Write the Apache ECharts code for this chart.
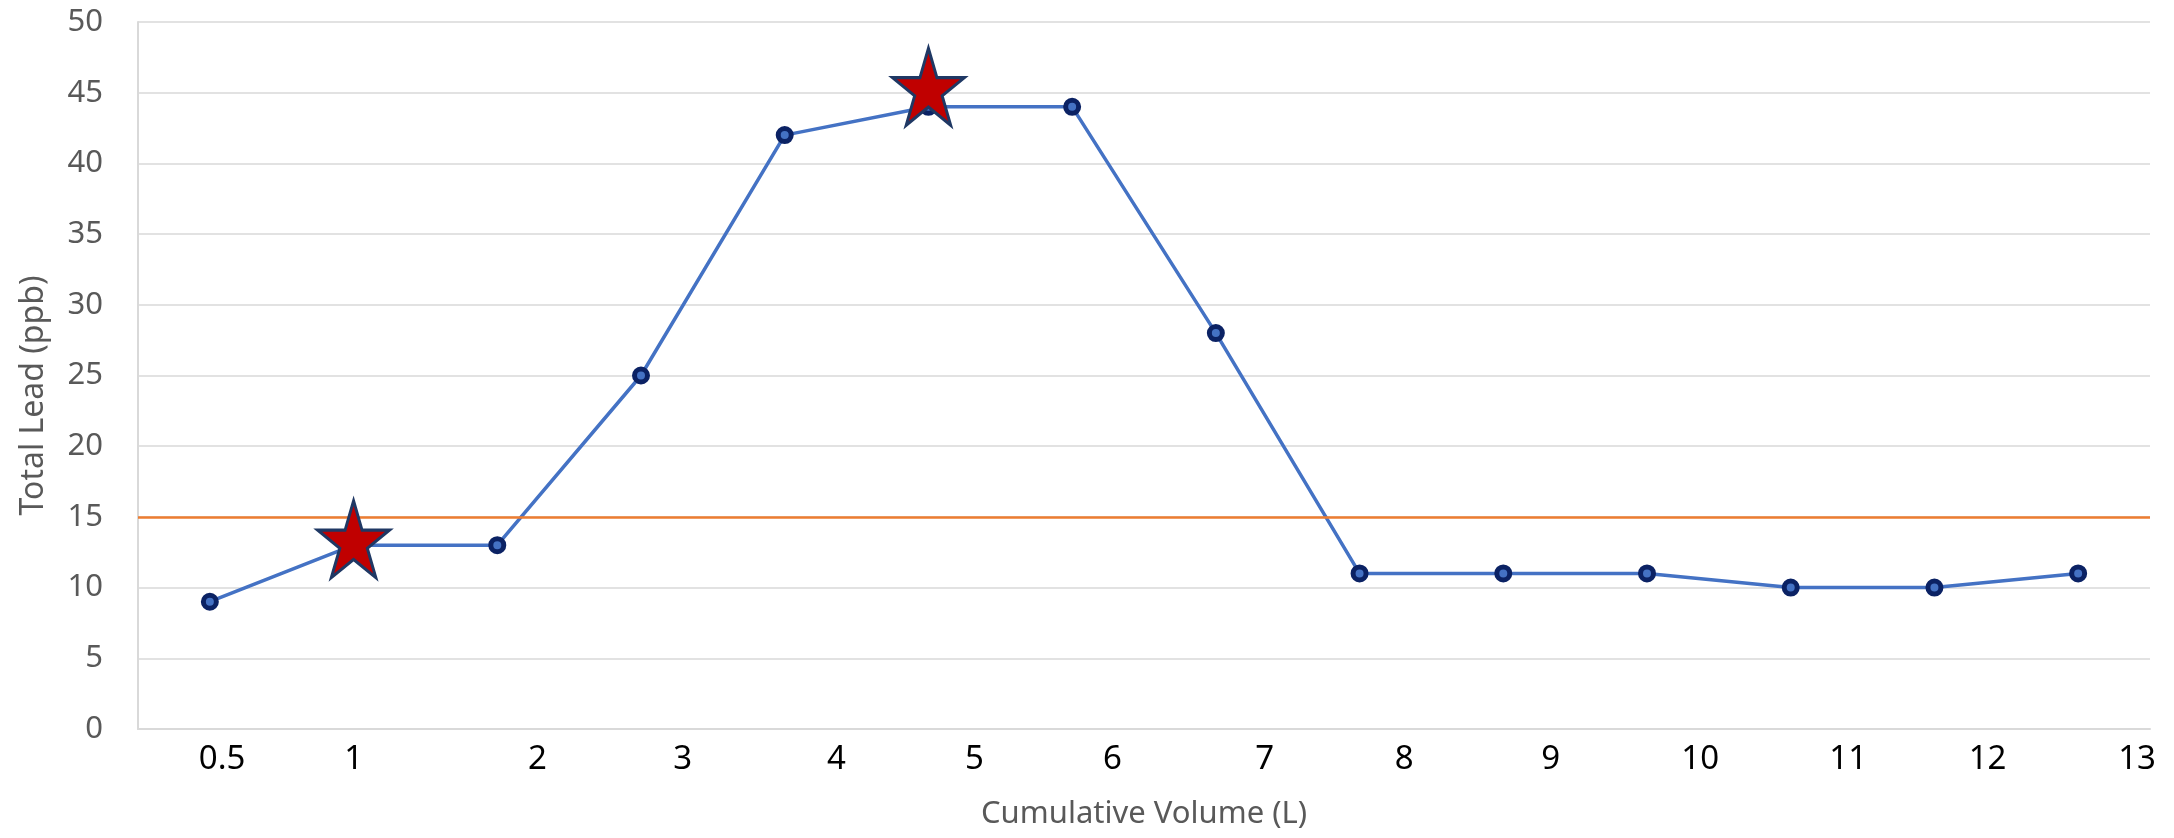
<!DOCTYPE html>
<html>
<head>
<meta charset="utf-8">
<title>Total Lead vs Cumulative Volume</title>
<script src="https://cdn.jsdelivr.net/npm/echarts@6/dist/echarts.min.js"></script>
<style>
  html, body { margin: 0; padding: 0; background: #ffffff; }
  #chart { width: 2174px; height: 838px; }
</style>
</head>
<body>
<div id="chart"></div>
<script>
// Sample volumes (category labels) and measured total lead per sample
const volumeLabels = ['0.5', '1', '2', '3', '4', '5', '6', '7', '8', '9', '10', '11', '12', '13'];
const leadPpb = [9, 13, 13, 25, 42, 44, 44, 28, 11, 11, 11, 10, 10, 11];

// Highlighted samples (sample index, ppb)
const starSample = [1, 5];
const starPpb = [13, 45];

// Action level line
const actionLevel = 15;

// Where each volume label sits along the sample axis
const labelSlots = [0.085, 1.0, 2.28, 3.29, 4.36, 5.32, 6.28, 7.34, 8.31, 9.33, 10.37, 11.40, 12.37, 13.41];

// Y axis ticks
const yMin = 0, yMax = 50, yStep = 5;

const fontFamily = '"Noto Sans", "Open Sans", sans-serif';
const starPath = 'path://M100,0 L122.45,69.1 L195.1,69.1 L136.3,111.8 L158.8,180.9 L100,138.2 L41.2,180.9 L63.7,111.8 L4.9,69.1 L77.55,69.1 Z';

const chart = echarts.init(document.getElementById('chart'), null, { renderer: 'canvas' });

const option = {
  animation: false,
  backgroundColor: '#ffffff',
  grid: { left: 138, right: 24, top: 22, bottom: 109, containLabel: false },
  xAxis: {
    type: 'value',
    min: -0.5,
    max: 13.5,
    name: 'Cumulative Volume (L)',
    nameLocation: 'middle',
    nameGap: 70,
    nameTextStyle: { color: '#595959', fontSize: 31, fontFamily: fontFamily },
    axisLine: { show: true, onZero: false, lineStyle: { color: '#d9d9d9', width: 2 } },
    axisTick: { show: false },
    splitLine: { show: false },
    axisLabel: {
      customValues: labelSlots,
      margin: 14,
      color: '#000000',
      fontSize: 33,
      fontFamily: fontFamily,
      formatter: function (val) {
        let best = 0;
        for (let i = 1; i < labelSlots.length; i++) {
          if (Math.abs(labelSlots[i] - val) < Math.abs(labelSlots[best] - val)) best = i;
        }
        return volumeLabels[best];
      }
    }
  },
  yAxis: {
    type: 'value',
    min: yMin,
    max: yMax,
    interval: yStep,
    name: 'Total Lead (ppb)',
    nameLocation: 'middle',
    nameGap: 88,
    nameTextStyle: { color: '#595959', fontSize: 32, fontFamily: fontFamily, padding: [0, 40, 0, 0] },
    axisLine: { show: true, onZero: false, lineStyle: { color: '#d9d9d9', width: 2 } },
    axisTick: { show: false },
    splitLine: { show: true, lineStyle: { color: '#d9d9d9', width: 1.5 } },
    axisLabel: { color: '#595959', fontSize: 31, fontFamily: fontFamily, margin: 35 }
  },
  series: [
    {
      name: 'Total Lead',
      type: 'line',
      data: leadPpb.map((v, i) => [i, v]),
      symbol: 'circle',
      symbolSize: 13,
      showAllSymbol: true,
      lineStyle: { color: '#4472c4', width: 3.5 },
      itemStyle: { color: '#4472c4', borderColor: '#0b2264', borderWidth: 5 },
      z: 3,
      markLine: {
        silent: true,
        symbol: ['none', 'none'],
        label: { show: false },
        lineStyle: { color: '#ed7d31', width: 2.5, type: 'solid' },
        data: [{ yAxis: actionLevel }]
      }
    },
    {
      name: 'Highlighted',
      type: 'scatter',
      data: starSample.map((x, i) => [x, starPpb[i]]),
      symbol: starPath,
      symbolSize: [72, 77],
      symbolOffset: [0, -6],
      itemStyle: { color: '#c00000', opacity: 1, borderColor: '#1f3864', borderWidth: 3 },
      z: 5
    }
  ]
};

chart.setOption(option);
</script>
</body>
</html>
